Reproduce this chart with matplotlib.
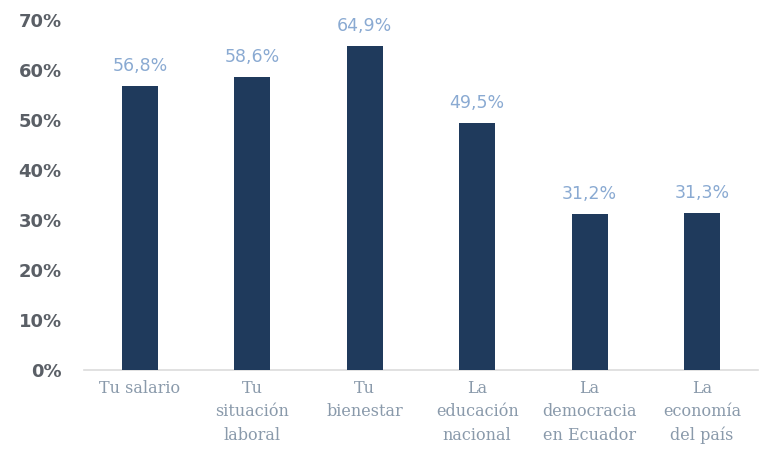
import matplotlib
matplotlib.use("Agg")
import matplotlib.pyplot as plt

# data
categories = ["Tu salario", "Tu\nsituación\nlaboral", "Tu\nbienestar",
              "La\neducación\nnacional", "La\ndemocracia\nen Ecuador", "La\neconomía\ndel país"]
values = [56.8, 58.6, 64.9, 49.5, 31.2, 31.3]
value_labels = ["56,8%", "58,6%", "64,9%", "49,5%", "31,2%", "31,3%"]
yticks = [0, 10, 20, 30, 40, 50, 60, 70]

fig = plt.figure(figsize=(7.69, 4.67), dpi=100)
ax = fig.add_axes([0.109, 0.208, 0.877, 0.749])

x = range(len(categories))
ax.bar(x, values, width=0.32, color="#1f3a5c", zorder=3)

for i, v in enumerate(values):
    ax.text(i, v + 2.2, value_labels[i], ha="center", va="bottom",
            fontsize=12.5, color="#8aaad2")

ax.set_xlim(-0.5, 5.5)
ax.set_ylim(0, 70)
ax.set_yticks(yticks)
ax.set_yticklabels([f"{t}%" for t in yticks], fontsize=13,
                   fontweight="semibold", color="#5a5f66")
ax.set_xticks(list(x))
ax.set_xticklabels(categories, fontsize=11.5, family="DejaVu Serif",
                   color="#8a9aab", linespacing=1.5, va="top")
ax.tick_params(axis="both", length=0)
ax.tick_params(axis="x", pad=7)
ax.tick_params(axis="y", pad=16)

for s in ["top", "right", "left"]:
    ax.spines[s].set_visible(False)
ax.spines["bottom"].set_color("#dcdcdc")
ax.spines["bottom"].set_linewidth(1.2)

fig.savefig("out.png", dpi=100)
